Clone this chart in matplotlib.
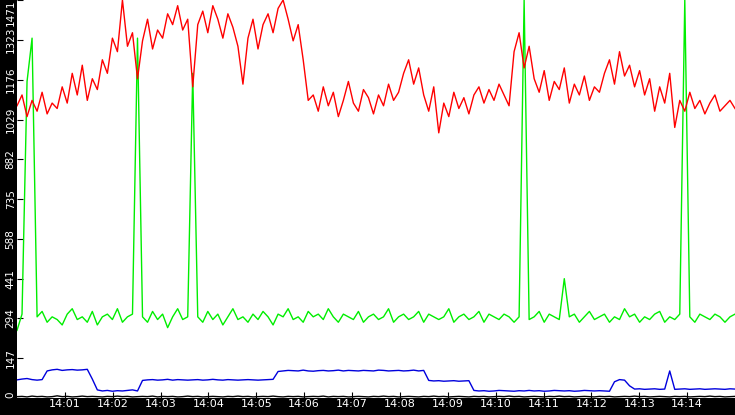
import numpy as np
import matplotlib
matplotlib.use("Agg")
import matplotlib.pyplot as plt

red = [1080,1120,1040,1100,1060,1130,1050,1090,1070,
       1150,1090,1200,1120,1230,1100,1180,1140,
       1250,1200,1330,1280,1471,1300,1350,
       1180,1320,1400,1290,1360,1330,
       1420,1380,1450,1360,1400,
       1150,
       1380,1430,1350,1450,1400,1330,1420,1370,1300,
       1160,
       1330,1400,1290,1380,1420,1350,1440,1471,1400,1320,1380,
       1250,1100,
       1120,1060,1150,1080,1130,1040,1100,1170,1090,1060,1140,1110,1050,1120,1080,1160,1100,1130,
       1200,1250,1160,1220,
       1120,1060,1150,980,1090,1040,1130,1070,1110,1050,
       1120,1150,1090,1140,1100,1160,1120,1080,
       1280,1350,1220,1300,
       1180,1130,1210,1100,1170,1140,1220,1090,1160,1120,1190,1100,1150,1130,
       1200,1250,1160,1280,1190,1230,1150,1210,
       1120,1180,1060,1150,1090,1200,1000,1100,1060,1130,
       1070,1100,1050,1090,1120,1060,1080,1100,1070]

green = [250,310,1170,1330,300,320,280,300,290,270,310,330,290,300,280,320,270,300,310,290,
         330,280,300,310,1330,300,280,320,290,310,260,300,330,290,300,1200,300,280,320,290,
         310,270,300,330,290,300,280,310,290,320,300,270,310,300,330,290,300,280,320,300,
         310,290,330,300,280,310,300,290,320,280,300,310,290,300,330,280,300,310,290,300,
         320,280,310,300,290,300,330,280,300,310,290,300,320,280,310,300,290,310,300,280,
         300,1471,290,300,320,280,310,300,290,441,300,310,280,300,320,290,300,310,280,300,
         290,330,300,310,280,300,290,310,320,280,300,290,310,1471,300,280,310,300,290,310,
         300,280,300,310]

blue = [67,70,72,68,66,68,100,104,106,102,104,105,103,104,106,70,30,26,28,25,
        27,26,28,30,26,65,67,68,66,67,69,66,68,67,66,67,68,66,67,69,
        67,66,68,67,66,67,68,67,66,67,68,69,98,100,102,101,100,103,100,99,
        101,102,100,101,103,100,102,101,100,102,101,100,103,102,100,101,102,100,101,103,
        100,102,65,63,64,62,63,64,62,63,64,28,26,27,25,26,28,27,26,25,
        27,26,28,26,27,25,26,28,27,26,27,25,26,28,27,26,27,26,25,60,
        68,66,45,33,34,32,33,34,32,33,100,32,33,34,32,33,34,32,33,34,
        33,32,34,33]

black = [5,6,4,7,5,6,4,5,8,5,6,4,5,7,5,6,5,4,6,5,
         7,5,6,4,5,6,5,7,4,6,5,6,4,5,7,5,6,4,5,6,
         5,4,6,5,7,5,6,4,5,6,5,7,5,4,6,5,6,4,5,6,
         5,7,4,6,5,6,4,5,6,5,4,6,5,7,5,6,4,5,6,5,
         4,6,5,7,5,6,4,5,6,5,4,6,5,6,4,5,6,5,7,5,
         6,4,5,6,5,4,6,5,7,5,6,4,5,6,5,4,6,5,6,4,
         5,6,5,7,5,6,4,5,6,5,4,6,5,6,4,5,6,5,7,5,
         6,4,5,6]

yticks = [0,147,294,441,588,735,882,1029,1176,1323,1471]
xticks = list(range(1,15))
xlabels = ["14:%02d" % m for m in xticks]

W, H = 735, 415
fig = plt.figure(figsize=(W/100, H/100), dpi=100, facecolor="black")
ax = fig.add_axes([17/W, 17/H, (W-17)/W, (H-17)/H])
ax.set_facecolor("white")

t = np.linspace(0, 15, len(red))
ax.plot(t, green, color="#00ee00", lw=1)
ax.plot(t, red, color="#ff0000", lw=1)
ax.plot(t, blue, color="#0000dd", lw=1)
ax.plot(t, black, color="black", lw=1)

ax.set_xlim(0, 15)
ax.set_ylim(0, 1471)
ax.set_yticks(yticks)
ax.set_yticklabels([str(v) for v in yticks], rotation=90, va="center", color="white", fontsize=7.5)
labs = ax.get_yticklabels()
labs[-1].set_va("top")
labs[0].set_va("bottom")
ax.set_xticks(xticks)
ax.set_xticklabels(xlabels, color="white", fontsize=8)
ax.tick_params(axis="both", direction="in", length=4, color="black", pad=1)
for s in ax.spines.values():
    s.set_visible(False)

fig.savefig("out.png", dpi=100, facecolor="black")
